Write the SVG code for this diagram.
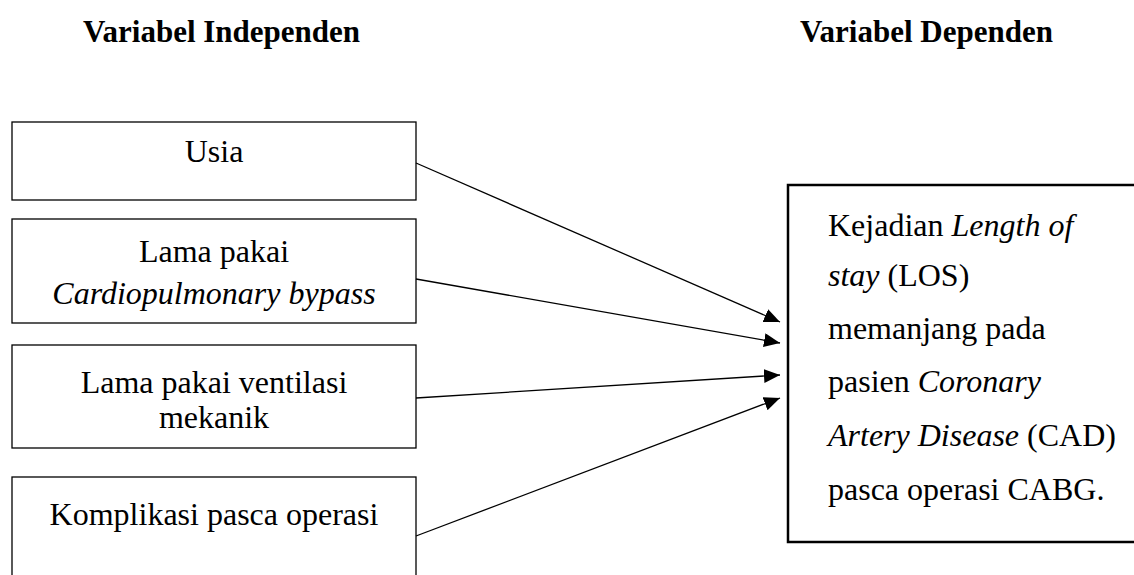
<svg xmlns="http://www.w3.org/2000/svg" width="1134" height="575" viewBox="0 0 1134 575">
<style>
text{font-family:"Liberation Serif","Times New Roman",serif;fill:#000}
.h{font-size:31px;font-weight:bold}
.t{font-size:32px}
.c{text-anchor:middle}
.i{font-style:italic}
.box{fill:#fff;stroke:#000;stroke-width:1.3}
.bbox{fill:#fff;stroke:#000;stroke-width:2.5}
.con{stroke:#000;stroke-width:1.3;fill:none}
</style>
<defs>
<marker id="arr" markerUnits="userSpaceOnUse" markerWidth="17" markerHeight="15" refX="16" refY="7" orient="auto">
<path d="M0,0 L16,7 L0,14 z" fill="#000"/>
</marker>
</defs>
<g id="heading-independen"><text class="h" x="83" y="42">Variabel Independen</text></g>
<g id="heading-dependen"><text class="h" x="800" y="42">Variabel Dependen</text></g>
<g id="usia">
<rect class="box" x="12" y="122" width="404" height="78"/>
<text class="t c" x="214" y="162">Usia</text>
</g>
<g id="cpb">
<rect class="box" x="12" y="219" width="404" height="104"/>
<text class="t c" x="214" y="262">Lama pakai</text>
<text class="t c i" x="214" y="304">Cardiopulmonary bypass</text>
</g>
<g id="ventilasi">
<rect class="box" x="12" y="345" width="404" height="103"/>
<text class="t c" x="214" y="393">Lama pakai ventilasi</text>
<text class="t c" x="214" y="428">mekanik</text>
</g>
<g id="komplikasi">
<rect class="box" x="12" y="477" width="404" height="120"/>
<text class="t c" x="214" y="525">Komplikasi pasca operasi</text>
</g>
<g id="los">
<rect class="bbox" x="788" y="185" width="380" height="357"/>
<text class="t" x="828" y="236">Kejadian <tspan class="i">Length of</tspan></text>
<text class="t" x="828" y="286"><tspan class="i">stay</tspan> (LOS)</text>
<text class="t" x="828" y="339">memanjang pada</text>
<text class="t" x="828" y="392">pasien <tspan class="i">Coronary</tspan></text>
<text class="t" x="828" y="446"><tspan class="i">Artery Disease</tspan> (CAD)</text>
<text class="t" x="828" y="500">pasca operasi CABG.</text>
</g>
<g id="connectors">
<line class="con" x1="416" y1="163" x2="780" y2="322" marker-end="url(#arr)"/>
<line class="con" x1="416" y1="279" x2="780" y2="343" marker-end="url(#arr)"/>
<line class="con" x1="416" y1="398" x2="780" y2="375" marker-end="url(#arr)"/>
<line class="con" x1="416" y1="536" x2="780" y2="398" marker-end="url(#arr)"/>
</g>
</svg>
